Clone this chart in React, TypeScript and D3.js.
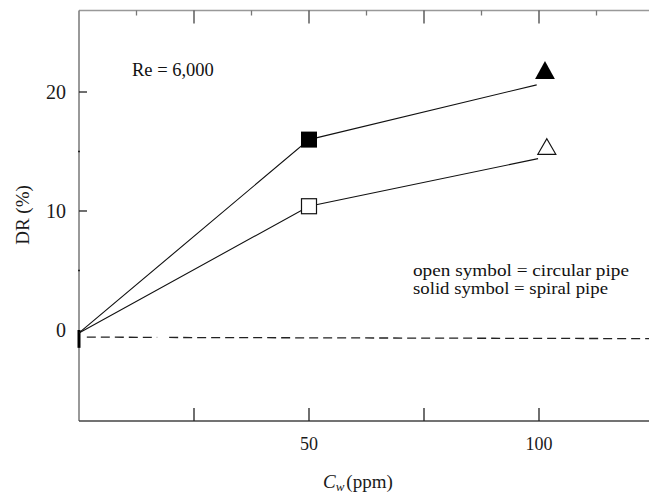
import * as d3 from "d3";

// concentration (ppm) vs drag reduction (%)
const spiralLine: [number, number][] = [[0, -0.25], [50, 16.0], [99.5, 20.6]];
const circularLine: [number, number][] = [[0, -0.25], [50, 10.4], [99.8, 14.4]];
const spiralSquares: [number, number][] = [[50, 16.0]];
const circularSquares: [number, number][] = [[50, 10.4]];
const spiralTriangles: [number, number][] = [[101.3, 21.6]];
const circularTriangles: [number, number][] = [[101.7, 15.2]];
const baselineSegments: [number, number][][] = [
  [[1.7, -0.6], [17, -0.62]],
  [[19.6, -0.63], [125, -0.73]],
];
const xMajorTicks = [25, 50, 75, 100];
const xTopMinorTicks = [12.5, 37.5, 62.5, 87.5, 112.5];
const xLabels = [50, 100];
const yMajorTicks = [0, 10, 20];
const yMinorTicks = [5, 15];
const legendLines = ["open symbol = circular pipe", "solid symbol = spiral pipe"];
const legendWidths = [216, 195];

const W = 649;
const H = 494;
const left = 79, right = 654, top = 10.5, bottom = 421;
const FONT = "'Liberation Serif', 'Times New Roman', serif";

export default function App() {
  const x = d3.scaleLinear().domain([0, 125]).range([left, right]);
  const y = d3.scaleLinear().domain([-7.65, 26.85]).range([bottom, top]);
  const line = d3.line<[number, number]>().x(d => x(d[0])).y(d => y(d[1]));
  const tri = d3.symbol().type(d3.symbolTriangle);
  const txt = { fontFamily: FONT };

  return (
    <svg width={W} height={H} style={{ position: "absolute", left: 0, top: 0, background: "#fff" }}>
      {/* frame */}
      <line x1={left} x2={right} y1={top} y2={top} stroke="#999" strokeWidth={1.5} />
      <line x1={left} x2={left} y1={top} y2={bottom} stroke="#777" strokeWidth={1.5} />
      <line x1={left} x2={right} y1={bottom} y2={bottom} stroke="#444" strokeWidth={1.5} />

      {/* x ticks */}
      {xMajorTicks.map(t => (
        <g key={"xb" + t}>
          <line x1={x(t)} x2={x(t)} y1={bottom} y2={bottom - 13} stroke="#222" strokeWidth={1.3} />
          <line x1={x(t)} x2={x(t)} y1={top} y2={top + 13} stroke="#444" strokeWidth={1.3} />
        </g>
      ))}
      {xTopMinorTicks.map(t => (
        <line key={"xt" + t} x1={x(t)} x2={x(t)} y1={top} y2={top + 5} stroke="#777" strokeWidth={1.3} />
      ))}
      {xLabels.map(t => (
        <text key={"xl" + t} x={x(t)} y={450} textAnchor="middle" fontSize={18} fill="#1a1a1a" style={txt}>{t}</text>
      ))}

      {/* y ticks */}
      {yMajorTicks.filter(t => t !== 0).map(t => (
        <line key={"yt" + t} x1={left} x2={left + 8} y1={y(t)} y2={y(t)} stroke="#222" strokeWidth={1.3} />
      ))}
      {yMinorTicks.map(t => (
        <line key={"ym" + t} x1={left - 1} x2={left + 1} y1={y(t)} y2={y(t)} stroke="#222" strokeWidth={1.3} />
      ))}
      {yMajorTicks.map(t => (
        <text key={"yl" + t} x={66} y={y(t)} dy="0.35em" textAnchor="end" fontSize={20} fill="#1a1a1a" style={txt}>{t}</text>
      ))}

      {/* baseline */}
      {baselineSegments.map((s, i) => (
        <path key={"b" + i} d={line(s) ?? ""} fill="none" stroke="#222" strokeWidth={1.3} strokeDasharray="9,5" />
      ))}

      {/* origin mark */}
      <line x1={x(0)} x2={x(0)} y1={y(0)} y2={y(-1.5)} stroke="#000" strokeWidth={3} />

      {/* series lines */}
      <path d={line(spiralLine) ?? ""} fill="none" stroke="#111" strokeWidth={1.1} />
      <path d={line(circularLine) ?? ""} fill="none" stroke="#111" strokeWidth={1.1} />

      {/* markers */}
      {spiralSquares.map((d, i) => (
        <rect key={"ss" + i} x={x(d[0]) - 8} y={y(d[1]) - 8} width={16} height={16} fill="#000" />
      ))}
      {circularSquares.map((d, i) => (
        <rect key={"cs" + i} x={x(d[0]) - 7.5} y={y(d[1]) - 7.5} width={15} height={15} fill="#fff" stroke="#111" strokeWidth={1.2} />
      ))}
      {spiralTriangles.map((d, i) => (
        <path key={"st" + i} transform={`translate(${x(d[0])},${y(d[1])}) scale(1,1.05)`}
          d={tri.size(170)() ?? ""} fill="#000" />
      ))}
      {circularTriangles.map((d, i) => (
        <path key={"ct" + i} transform={`translate(${x(d[0])},${y(d[1])})`}
          d={tri.size(140)() ?? ""} fill="#fff" stroke="#111" strokeWidth={1.2} />
      ))}

      {/* annotations */}
      <text x={132} y={76} fontSize={18.5} fill="#111" style={txt}>Re = 6,000</text>
      {legendLines.map((s, i) => (
        <text key={"lg" + i} x={413} y={276 + i * 18} fontSize={16.5} fill="#111" style={txt}
          textLength={legendWidths[i]} lengthAdjust="spacingAndGlyphs">{s}</text>
      ))}

      {/* axis titles */}
      <text x={323} y={488} fontSize={19} fill="#1a1a1a" style={txt}>
        <tspan fontStyle="italic">C</tspan>
        <tspan fontStyle="italic" fontSize={13} dy={3}>w</tspan>
        <tspan dy={-3} dx={2}>(ppm)</tspan>
      </text>
      <text transform={`translate(29,215) rotate(-90)`} textAnchor="middle" fontSize={19} fill="#1a1a1a" style={txt}>DR (%)</text>
    </svg>
  );
}
